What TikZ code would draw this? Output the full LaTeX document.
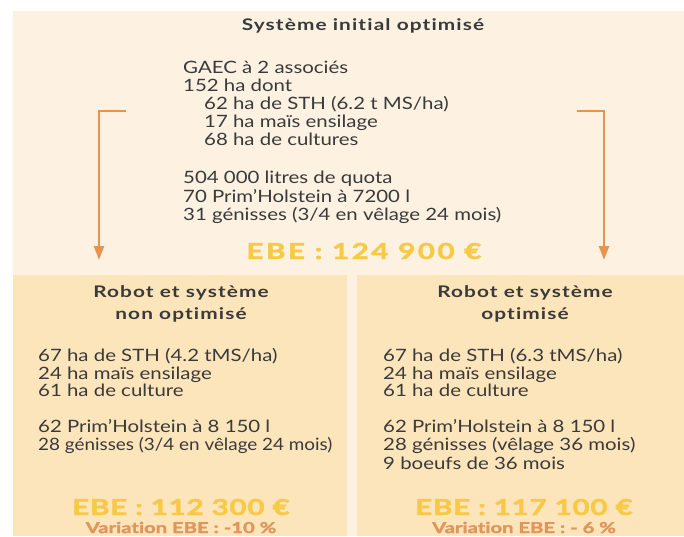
\documentclass[tikz,border=0pt]{standalone}
\usepackage{fontspec}
\setmainfont{Lato}[FakeStretch=1.2]
\newfontfamily\titlefont{Lato}[FakeStretch=1.3, LetterSpace=7, Ligatures=NoCommon]
\newfontfamily\heavyfont{Lato}[FakeStretch=1.35, Ligatures=NoCommon, BoldFeatures={FakeBold=2}]
\usetikzlibrary{arrows.meta}
\definecolor{creambg}{HTML}{FDF2E2}
\definecolor{panelbg}{HTML}{FDE5BB}
\definecolor{arrowc}{HTML}{E39552}
\definecolor{ebec}{HTML}{F8C944}
\definecolor{varc}{HTML}{E0965A}
\definecolor{txt}{HTML}{3A3A3A}
\tikzset{
  body/.style={anchor=base west, inner sep=0pt, text=txt, font=\fontsize{17}{18}\selectfont},
  ttl/.style={anchor=base, inner sep=0pt, text=txt, font=\titlefont\fontsize{16}{18}\selectfont\bfseries},
  ebe/.style={anchor=base, inner sep=0pt, text=ebec, font=\heavyfont\fontsize{22}{24}\selectfont\bfseries},
  var/.style={anchor=base, inner sep=0pt, text=varc, font=\heavyfont\fontsize{15}{16}\selectfont\bfseries},
  arr/.style={draw=arrowc, line width=2.4pt, -{Triangle[width=10pt,length=14pt]}},
}
\begin{document}
\begin{tikzpicture}[x=1pt,y=1pt]
\useasboundingbox (0,0) rectangle (684,536);
% panels
\fill[creambg] (13,0) rectangle (684,525);
\fill[panelbg] (13,0) rectangle (347,261);
\fill[panelbg] (357,0) rectangle (684,261);
% top
\node[ttl] (t0) at (363,505) {Système initial optimisé};
\node[body] (a1) at (183,462) {GAEC à 2 associés};
\node[body] (a2) at (183,444) {152 ha dont};
\node[body] (a3) at (204,426) {62 ha de STH (6.2 t MS/ha)};
\node[body] (a4) at (204,408) {17 ha maïs ensilage};
\node[body] (a5) at (204,390) {68 ha de cultures};
\node[body] (a6) at (183,352) {504 000 litres de quota};
\node[body] (a7) at (183,334) {70 Prim'Holstein à 7200 l};
\node[body] (a8) at (183,316) {31 génisses (3/4 en vêlage 24 mois)};
\node[ebe] (e0) at (364,277) {\addfontfeatures{LetterSpace=11}EBE : 124 900 €};
% arrows
\coordinate (l0) at (126,425);
\coordinate (l1) at (99,425);
\coordinate (l2) at (99,276);
\coordinate (r0) at (577,425);
\coordinate (r1) at (604,425);
\coordinate (r2) at (604,276);
\draw[arr] (l0) -- (l1) -- (l2);
\draw[arr] (r0) -- (r1) -- (r2);
% left panel
\node[ttl] (t1) at (181,239) {Robot et système};
\node[ttl] (t2) at (181,217) {non optimisé};
\node[body] (b1) at (38,175) {67 ha de STH (4.2 tMS/ha)};
\node[body] (b2) at (38,157) {24 ha maïs ensilage};
\node[body] (b3) at (38,140) {61 ha de culture};
\node[body] (b4) at (38,104) {62 Prim'Holstein à 8 150 l};
\node[body] (b5) at (38,86) {\scalebox{0.925}[1]{28 génisses (3/4 en vêlage 24 mois)}};
\node[ebe] (e1) at (181,21) {\addfontfeatures{LetterSpace=3}EBE : 112 300 €};
\node[var] (v1) at (181,3) {Variation EBE : -10 \%};
% right panel
\node[ttl] (t3) at (525,239) {Robot et système};
\node[ttl] (t4) at (525,217) {optimisé};
\node[body] (c1) at (383,175) {67 ha de STH (6.3 tMS/ha)};
\node[body] (c2) at (383,157) {24 ha maïs ensilage};
\node[body] (c3) at (383,140) {61 ha de culture};
\node[body] (c4) at (383,104) {62 Prim'Holstein à 8 150 l};
\node[body] (c5) at (383,86) {28 génisses (vêlage 36 mois)};
\node[body] (c6) at (383,67) {9 boeufs de 36 mois};
\node[ebe] (e2) at (524,21) {\addfontfeatures{LetterSpace=3}EBE : 117 100 €};
\node[var] (v2) at (524,3) {Variation EBE : - 6 \%};
\end{tikzpicture}
\end{document}
